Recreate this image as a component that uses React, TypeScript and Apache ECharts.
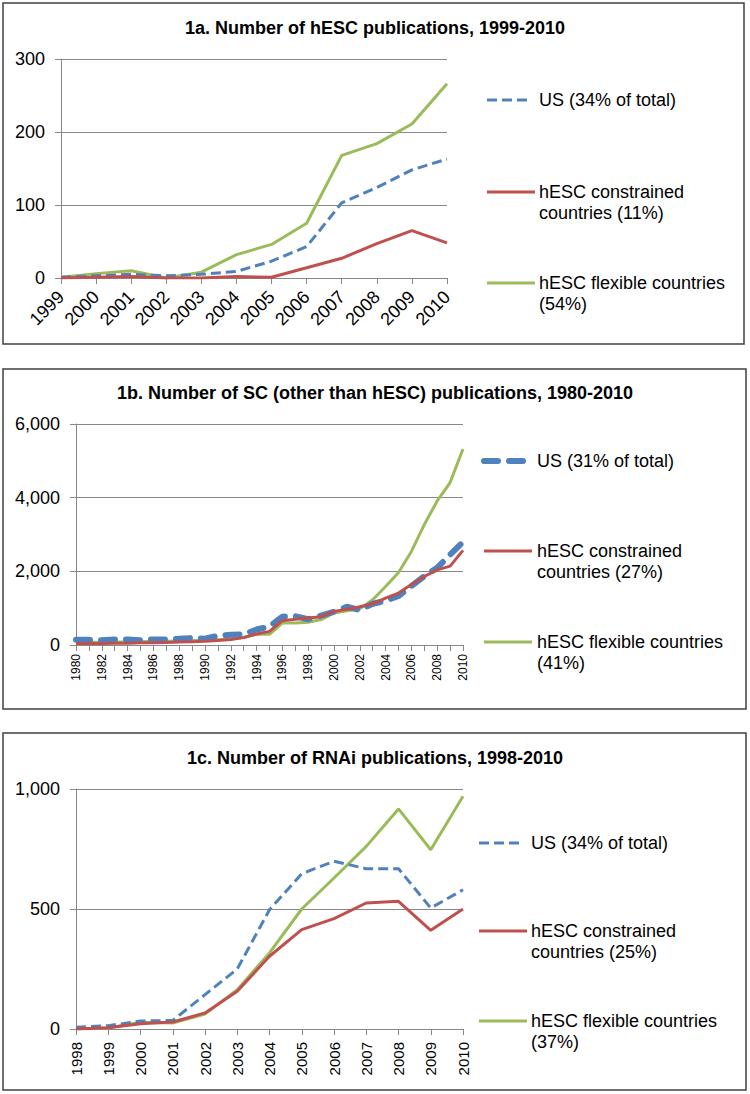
import React, { useEffect, useRef } from "react";
import * as echarts from "echarts";

// ---- Data ----
const yearsA = ["1999", "2000", "2001", "2002", "2003", "2004", "2005", "2006", "2007", "2008", "2009", "2010"];
const usA = [1, 3, 5, 3, 5, 9, 23, 43, 103, 124, 148, 163];
const conA = [0, 1, 2, 0, 0, 2, 1, 14, 27, 47, 65, 48];
const flexA = [1, 6, 10, 0, 8, 32, 46, 75, 168, 184, 211, 266];

const yearsB = [
  "1980", "1981", "1982", "1983", "1984", "1985", "1986", "1987", "1988", "1989",
  "1990", "1991", "1992", "1993", "1994", "1995", "1996", "1997", "1998", "1999",
  "2000", "2001", "2002", "2003", "2004", "2005", "2006", "2007", "2008", "2009", "2010",
];
const usB = [140, 140, 130, 150, 150, 130, 150, 150, 170, 190, 170, 250, 280, 290, 420, 500, 770, 780, 700, 800, 900, 1040, 950, 1120, 1200, 1330, 1600, 1870, 2100, 2450, 2800];
const conB = [40, 40, 40, 50, 50, 60, 60, 70, 80, 90, 100, 120, 150, 200, 300, 370, 660, 700, 730, 770, 910, 970, 1040, 1120, 1270, 1410, 1640, 1860, 2040, 2140, 2570];
const flexB = [80, 80, 70, 80, 80, 90, 100, 100, 110, 120, 120, 140, 160, 210, 290, 290, 600, 600, 620, 690, 870, 930, 980, 1230, 1590, 1970, 2540, 3270, 3910, 4410, 5320];

const yearsC = ["1998", "1999", "2000", "2001", "2002", "2003", "2004", "2005", "2006", "2007", "2008", "2009", "2010"];
const usC = [7, 14, 33, 36, 143, 250, 497, 647, 699, 668, 668, 504, 580];
const conC = [0, 5, 22, 29, 67, 157, 303, 414, 460, 525, 532, 411, 500];
const flexC = [0, 4, 28, 25, 62, 164, 317, 500, 629, 761, 917, 747, 970];

const titles = [
  "1a. Number of hESC publications, 1999-2010",
  "1b. Number of SC (other than hESC) publications, 1980-2010",
  "1c. Number of RNAi publications, 1998-2010",
];
const legendA = ["US (34% of total)", "hESC constrained\ncountries (11%)", "hESC flexible countries\n(54%)"];
const legendB = ["US (31% of total)", "hESC constrained\ncountries (27%)", "hESC flexible countries\n(41%)"];
const legendC = ["US (34% of total)", "hESC constrained\ncountries (25%)", "hESC flexible countries\n(37%)"];

const BLUE = "#4f81bd";
const RED = "#c0504d";
const GREEN = "#9bbb59";
const GRID = "#888888";
const FONT = "Liberation Sans, Arial, sans-serif";

function legendGraphics(
  texts: string[],
  ys: number[],
  lineX: number,
  lineEnds: number[],
  textX: number,
  usDash: { width: number; dash: number[]; cap: string }
) {
  const colors = [BLUE, RED, GREEN];
  const out: any[] = [];
  texts.forEach((t, i) => {
    out.push({
      type: "line",
      shape: { x1: lineX, y1: ys[i], x2: lineEnds[i], y2: ys[i] },
      style: {
        stroke: colors[i],
        lineWidth: i === 0 ? usDash.width : 3,
        lineDash: i === 0 ? usDash.dash : null,
        lineCap: i === 0 ? usDash.cap : "butt",
      },
    });
    out.push({
      type: "text",
      x: textX,
      y: ys[i] - 10.5,
      style: {
        text: t,
        font: `18px ${FONT}`,
        fill: "#000",
        lineHeight: 21,
        verticalAlign: "top",
        align: "left",
      },
    });
  });
  return out;
}

export default function App() {
  const ref = useRef<HTMLDivElement>(null);
  useEffect(() => {
    if (!ref.current) return;
    const chart = echarts.init(ref.current, null, { renderer: "svg" });
    const axisLineStyle = { lineStyle: { color: GRID, width: 1 } };
    const yLabel = (fmt: boolean) => ({
      fontSize: 18,
      color: "#000",
      fontFamily: FONT,
      margin: 16,
      formatter: fmt ? (v: number) => v.toLocaleString("en-US") : undefined,
    });
    const yAxisBase = {
      type: "value",
      axisLine: { show: true, ...axisLineStyle },
      axisTick: { show: true, length: 6, ...axisLineStyle },
      splitLine: { show: true, lineStyle: { color: GRID, width: 1 } },
    };
    const xAxisBase = {
      type: "category",
      boundaryGap: false,
      axisLine: { show: true, ...axisLineStyle },
      axisTick: { show: true, length: 6, interval: 0, ...axisLineStyle },
      splitLine: { show: false },
    };
    const lineSeries = (name: string, data: number[], idx: number, color: string, extra: any = {}) => ({
      name,
      type: "line",
      xAxisIndex: idx,
      yAxisIndex: idx,
      data,
      symbol: "none",
      smooth: false,
      lineStyle: { color, width: 3, ...extra },
      itemStyle: { color },
    });

    const option: any = {
      animation: false,
      backgroundColor: "#fff",
      title: titles.map((t, i) => ({
        text: t,
        left: "center",
        top: [13, 378, 743][i],
        textStyle: { fontSize: 18, fontWeight: "bold", color: "#000", fontFamily: FONT, lineHeight: 20 },
      })),
      grid: [
        { left: 61, top: 59, width: 386, height: 219 },
        { left: 76, top: 424, width: 387, height: 221 },
        { left: 76, top: 789, width: 387, height: 240 },
      ],
      xAxis: [
        {
          ...xAxisBase,
          gridIndex: 0,
          data: yearsA,
          axisLabel: { rotate: 45, fontSize: 18, color: "#000", fontFamily: FONT, margin: 16, interval: 0 },
        },
        {
          ...xAxisBase,
          gridIndex: 1,
          data: yearsB,
          axisLabel: { rotate: 90, fontSize: 12, color: "#000", fontFamily: FONT, margin: 9, interval: 1 },
        },
        {
          ...xAxisBase,
          gridIndex: 2,
          data: yearsC,
          axisLabel: { rotate: 90, fontSize: 15, color: "#000", fontFamily: FONT, margin: 13, interval: 0 },
        },
      ],
      yAxis: [
        { ...yAxisBase, gridIndex: 0, min: 0, max: 300, interval: 100, axisLabel: yLabel(false) },
        { ...yAxisBase, gridIndex: 1, min: 0, max: 6000, interval: 2000, axisLabel: yLabel(true) },
        { ...yAxisBase, gridIndex: 2, min: 0, max: 1000, interval: 500, axisLabel: yLabel(true) },
      ],
      series: [
        lineSeries("hESC flexible countries", flexA, 0, GREEN),
        lineSeries("US", usA, 0, BLUE, { type: [10, 5] }),
        lineSeries("hESC constrained countries", conA, 0, RED),
        lineSeries("hESC flexible countries", flexB, 1, GREEN),
        lineSeries("US", usB, 1, BLUE, { type: [14, 11], width: 6, cap: "round" }),
        lineSeries("hESC constrained countries", conB, 1, RED),
        lineSeries("hESC flexible countries", flexC, 2, GREEN),
        lineSeries("US", usC, 2, BLUE, { type: [10, 5] }),
        lineSeries("hESC constrained countries", conC, 2, RED),
      ],
      graphic: [
        { type: "rect", shape: { x: 3, y: 3, width: 741, height: 341 }, style: { fill: "none", stroke: "#404040", lineWidth: 1.5 } },
        { type: "rect", shape: { x: 3, y: 369, width: 743, height: 340 }, style: { fill: "none", stroke: "#404040", lineWidth: 1.5 } },
        { type: "rect", shape: { x: 3, y: 733, width: 743, height: 357 }, style: { fill: "none", stroke: "#404040", lineWidth: 1.5 } },
        ...legendGraphics(legendA, [100, 192, 283], 487, [529, 535, 535], 539, { width: 3, dash: [10, 5], cap: "butt" }),
        ...legendGraphics(legendB, [461, 551, 642], 484, [531, 532, 532], 537, { width: 6, dash: [14, 11], cap: "round" }),
        ...legendGraphics(legendC, [843, 931, 1021], 479, [520, 527, 527], 531, { width: 3, dash: [10, 5], cap: "butt" }),
      ],
    };
    chart.setOption(option);
    return () => chart.dispose();
  }, []);
  return <div ref={ref} style={{ position: "absolute", left: 0, top: 0, width: 750, height: 1094 }} />;
}
